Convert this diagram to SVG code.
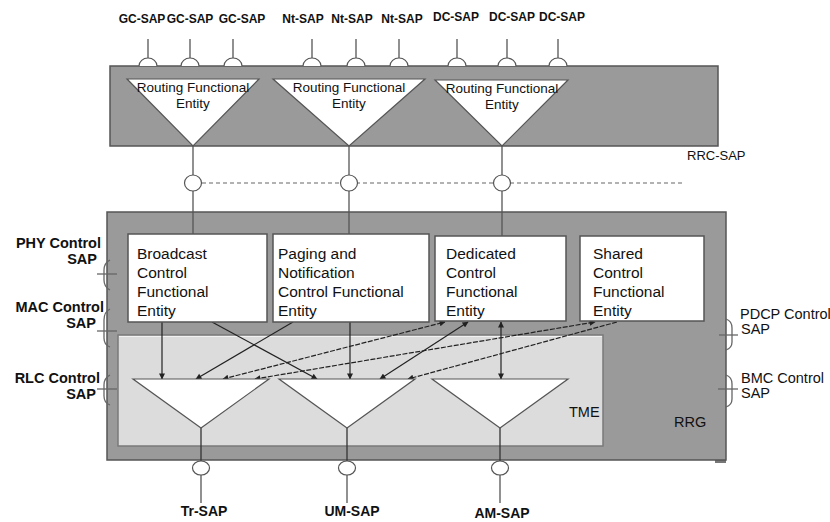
<svg xmlns="http://www.w3.org/2000/svg" width="830" height="522" viewBox="0 0 830 522">
<defs>
<style>
.gray{fill:#9a9a9a;stroke:#555;stroke-width:1.5}
.tme{fill:#dcdcdc;stroke:#7a7a7a;stroke-width:1.5}
.wbox{fill:#fff;stroke:#555;stroke-width:1.5}
.tri{fill:#fff;stroke:#555;stroke-width:1.2}
.ln{stroke:#555;stroke-width:1.3;fill:none}
.dk{stroke:#333;stroke-width:1.3;fill:none}
.sap{fill:#fff;stroke:#555;stroke-width:1.2}
.br{fill:none;stroke:#666;stroke-width:1.3}
.ar{stroke:#222;stroke-width:1.2;fill:none;marker-end:url(#ah)}
.ar2{stroke:#222;stroke-width:1.2;fill:none;marker-end:url(#ah);marker-start:url(#ah)}
.ds{stroke-dasharray:5 1.5}
.t{font-family:"Liberation Sans",Arial,sans-serif;fill:#111}
.sb{font-size:12px;font-weight:bold}
.rt{font-size:13.5px;text-anchor:middle}
.bx{font-size:15.5px}
.lb{font-size:14.5px;font-weight:bold;text-anchor:end}
.rl{font-size:14.5px}
.bt{font-size:14px;font-weight:bold;text-anchor:middle}
</style>
<marker id="ah" viewBox="0 0 10 10" refX="9" refY="5" markerUnits="userSpaceOnUse" markerWidth="7" markerHeight="6" orient="auto-start-reverse">
<path d="M0 0 L10 5 L0 10 Z" fill="#222"/>
</marker>
</defs>

<!-- upper RRC box -->
<g id="rrc-upper">
<rect class="gray" x="110" y="66" width="608" height="80"/>
</g>

<!-- top SAPs -->
<g id="top-saps">
<g class="ln">
<line x1="148" y1="39" x2="148" y2="58"/><line x1="190" y1="39" x2="190" y2="58"/><line x1="233" y1="39" x2="233" y2="58"/>
<line x1="312" y1="39" x2="312" y2="58"/><line x1="356" y1="39" x2="356" y2="58"/><line x1="399" y1="39" x2="399" y2="58"/>
<line x1="457" y1="39" x2="457" y2="58"/><line x1="507" y1="39" x2="507" y2="58"/><line x1="558" y1="39" x2="558" y2="58"/>
</g>
<path class="sap" d="M139 66 A9 8 0 0 1 157 66"/>
<path class="sap" d="M181 66 A9 8 0 0 1 199 66"/>
<path class="sap" d="M224 66 A9 8 0 0 1 242 66"/>
<path class="sap" d="M303 66 A9 8 0 0 1 321 66"/>
<path class="sap" d="M347 66 A9 8 0 0 1 365 66"/>
<path class="sap" d="M390 66 A9 8 0 0 1 408 66"/>
<path class="sap" d="M448 66 A9 8 0 0 1 466 66"/>
<path class="sap" d="M498 66 A9 8 0 0 1 516 66"/>
<path class="sap" d="M549 66 A9 8 0 0 1 567 66"/>
<text class="t sb" x="142" y="23" text-anchor="middle">GC-SAP</text>
<text class="t sb" x="190" y="23" text-anchor="middle">GC-SAP</text>
<text class="t sb" x="242" y="23" text-anchor="middle">GC-SAP</text>
<text class="t sb" x="303" y="23" text-anchor="middle">Nt-SAP</text>
<text class="t sb" x="352" y="23" text-anchor="middle">Nt-SAP</text>
<text class="t sb" x="402" y="23" text-anchor="middle">Nt-SAP</text>
<text class="t sb" x="456" y="21" text-anchor="middle">DC-SAP</text>
<text class="t sb" x="512" y="21" text-anchor="middle">DC-SAP</text>
<text class="t sb" x="562" y="21" text-anchor="middle">DC-SAP</text>
</g>

<!-- routing functional entities -->
<g id="rfe1">
<polygon class="tri" points="127,79 259,79 193,146"/>
<text class="t rt" x="193" y="92">Routing Functional</text>
<text class="t rt" x="193" y="108">Entity</text>
</g>
<g id="rfe2">
<polygon class="tri" points="273,79 425,79 349,146"/>
<text class="t rt" x="349" y="92">Routing Functional</text>
<text class="t rt" x="349" y="108">Entity</text>
</g>
<g id="rfe3">
<polygon class="tri" points="435,80 568,80 502,146"/>
<text class="t rt" x="502" y="93">Routing Functional</text>
<text class="t rt" x="502" y="109">Entity</text>
</g>

<!-- lower RRG box -->
<g id="rrg">
<rect x="715" y="459" width="11" height="4" fill="#777"/>
<rect class="gray" x="107" y="212" width="619" height="248"/>
<text class="t rl" x="674" y="427">RRG</text>
</g>

<g id="tme">
<rect class="tme" x="118" y="335" width="485" height="111"/>
<line x1="119" y1="336.5" x2="602" y2="336.5" stroke="#f2f2f2" stroke-width="1"/>
<text class="t rl" x="569" y="417">TME</text>
</g>

<!-- connectors -->
<g id="connectors">
<line class="ln" x1="193" y1="146" x2="193" y2="175"/>
<line class="ln" x1="349" y1="146" x2="349" y2="175"/>
<line class="ln" x1="502" y1="146" x2="502" y2="175"/>
<line x1="202" y1="183" x2="684" y2="183" stroke="#666" stroke-width="1.1" stroke-dasharray="4 3"/>
<line class="ln" x1="193" y1="191" x2="193" y2="234"/>
<line class="ln" x1="349" y1="191" x2="349" y2="234"/>
<line class="ln" x1="502" y1="191" x2="502" y2="236"/>
<ellipse class="sap" cx="193" cy="183" rx="8.5" ry="8"/>
<ellipse class="sap" cx="349" cy="183" rx="8.5" ry="8"/>
<ellipse class="sap" cx="502" cy="183" rx="8.5" ry="8"/>

<line class="ar" x1="162" y1="322" x2="162" y2="379"/>
<line class="ar" x1="212" y1="322" x2="317" y2="379"/>
<line class="ar" x1="293" y1="322" x2="196" y2="379"/>
<line class="ar" x1="350" y1="322" x2="350" y2="379"/>
<line class="ar2 ds" x1="223" y1="379" x2="445" y2="322"/>
<line class="ar2 ds" x1="255" y1="379" x2="595" y2="322"/>
<line class="ar2" x1="380" y1="379" x2="468" y2="322"/>
<line class="ar ds" x1="617" y1="322" x2="408" y2="379"/>
<line class="ar2" x1="501" y1="322" x2="501" y2="379"/>

<line class="dk" x1="201" y1="428" x2="201" y2="461"/>
<line class="dk" x1="347" y1="428" x2="347" y2="461"/>
<line class="dk" x1="500" y1="428" x2="500" y2="461"/>
<line class="ln" x1="201" y1="475" x2="201" y2="503"/>
<line class="ln" x1="347" y1="475" x2="347" y2="503"/>
<line class="ln" x1="500" y1="475" x2="500" y2="503"/>
<ellipse class="sap" cx="201" cy="468" rx="8.5" ry="7"/>
<ellipse class="sap" cx="347" cy="468" rx="8.5" ry="7"/>
<ellipse class="sap" cx="500" cy="468" rx="8.5" ry="7"/>
</g>

<!-- control function entities -->
<g id="bcfe">
<rect class="wbox" x="128" y="234" width="139" height="88"/>
<text class="t bx" x="137" y="259">Broadcast</text>
<text class="t bx" x="137" y="278">Control</text>
<text class="t bx" x="137" y="297">Functional</text>
<text class="t bx" x="137" y="316">Entity</text>
</g>
<g id="pncfe">
<rect class="wbox" x="273" y="234" width="156" height="88"/>
<text class="t bx" x="278" y="259">Paging and</text>
<text class="t bx" x="278" y="278">Notification</text>
<text class="t bx" x="278" y="297">Control Functional</text>
<text class="t bx" x="278" y="316">Entity</text>
</g>
<g id="dcfe">
<rect class="wbox" x="435" y="236" width="131" height="85"/>
<text class="t bx" x="446" y="259">Dedicated</text>
<text class="t bx" x="446" y="278">Control</text>
<text class="t bx" x="446" y="297">Functional</text>
<text class="t bx" x="446" y="316">Entity</text>
</g>
<g id="scfe">
<rect class="wbox" x="580" y="236" width="124" height="85"/>
<text class="t bx" x="593" y="259">Shared</text>
<text class="t bx" x="593" y="278">Control</text>
<text class="t bx" x="593" y="297">Functional</text>
<text class="t bx" x="593" y="316">Entity</text>
</g>

<!-- TME triangles -->
<g id="tme-tr">
<polygon class="tri" points="133,379 269,379 201,428"/>
</g>
<g id="tme-um">
<polygon class="tri" points="279,379 415,379 347,428"/>
</g>
<g id="tme-am">
<polygon class="tri" points="432,379 568,379 500,428"/>
</g>

<!-- left SAPs -->
<g id="phy-sap">
<path class="br" d="M110 260 Q104 263 104 270 L104 280 Q104 287 110 290"/>
<line class="br" x1="97" y1="274" x2="117" y2="274"/>
<text class="t lb" x="101" y="248">PHY Control</text>
<text class="t lb" x="97" y="264">SAP</text>
</g>
<g id="mac-sap">
<path class="br" d="M110 309 Q104 312 104 320 L104 338 Q104 345 110 347"/>
<line class="br" x1="97" y1="331" x2="117" y2="331"/>
<text class="t lb" x="104" y="312">MAC Control</text>
<text class="t lb" x="96" y="328">SAP</text>
</g>
<g id="rlc-sap">
<path class="br" d="M110 375 Q104 378 104 385 L104 396 Q104 403 110 405"/>
<line class="br" x1="97" y1="389" x2="117" y2="389"/>
<text class="t lb" x="100" y="383">RLC Control</text>
<text class="t lb" x="96" y="399">SAP</text>
</g>

<!-- right SAPs -->
<g id="pdcp-sap">
<path class="br" d="M726 319 Q732 321 732 328 L732 342 Q732 348 726 350"/>
<line class="br" x1="719" y1="335" x2="738" y2="335"/>
<text class="t rl" x="740" y="319">PDCP Control</text>
<text class="t rl" x="741" y="334">SAP</text>
</g>
<g id="bmc-sap">
<path class="br" d="M726 375 Q732 377 732 384 L732 399 Q732 405 726 407"/>
<line class="br" x1="718" y1="389" x2="738" y2="389"/>
<text class="t rl" x="741" y="383">BMC Control</text>
<text class="t rl" x="741" y="398">SAP</text>
</g>

<g id="rrc-sap-label">
<text class="t" x="687" y="160" font-size="13" fill="#333">RRC-SAP</text>
</g>

<g id="bottom-saps">
<text class="t bt" x="204" y="516">Tr-SAP</text>
<text class="t bt" x="352" y="516">UM-SAP</text>
<text class="t bt" x="502" y="518">AM-SAP</text>
</g>
</svg>
